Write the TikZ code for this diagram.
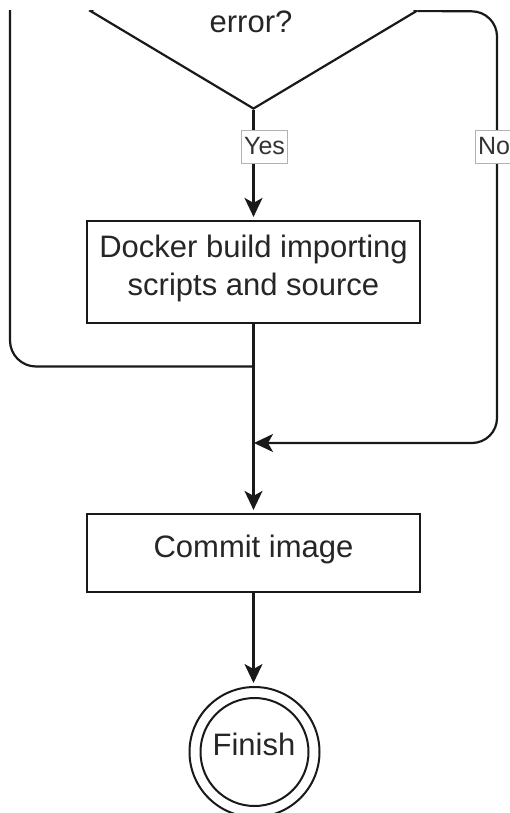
\documentclass[tikz,border=0pt]{standalone}
\usepackage{fontspec}
\setmainfont{Liberation Sans}
\usetikzlibrary{shapes.geometric,arrows.meta}
\begin{document}
\begin{tikzpicture}[x=1pt,y=-1pt,
  flow/.style={line width=2.2pt, draw=black!90},
  arr/.style={flow, -{Stealth[length=19pt 0 0,width=18pt 0 0,inset=5pt]}, shorten >=3pt},
  procbox/.style={draw=black!90, line width=2.2pt, minimum width=333pt, inner sep=0pt, fill=white},
  maintext/.style={font=\fontsize{31}{38}\selectfont, text=black!85, inner sep=0pt},
  tag/.style={draw=black!30, line width=0.8pt, fill=white, font=\fontsize{25}{30}\selectfont,
              text=black!80, inner xsep=2.5pt, inner ysep=0pt, minimum height=33pt},
]
% page: white background, fixed size
\fill[white] (0,0) rectangle (510,813);
\useasboundingbox (0,0) rectangle (510,813);

\begin{scope}
\clip (0,11) rectangle (510,813);

% decision
\node[diamond, draw=black!90, line width=2.2pt, minimum width=327pt, minimum height=196pt,
      inner sep=0pt] (dec) at (253.5,11) {};
\node[maintext, anchor=base] (q) at (251,33) {error?};

% process steps
\node[procbox, minimum height=102pt] (build) at (253.5,272) {};
\node[maintext, align=center, anchor=north] (buildtxt) at (253.5,234.5)
  {Docker build importing\\scripts and source};
\node[procbox, minimum height=78pt] (commit) at (253.5,553) {};
\node[maintext, anchor=base] (committxt) at (253.5,557) {Commit image};

% terminal
\node[circle, draw=black!90, line width=2pt, minimum size=130pt, inner sep=0pt] (fin) at (254.5,752) {};
\node[circle, draw=black!90, line width=2pt, minimum size=108pt, inner sep=0pt] (fininner) at (254.5,752) {};
\node[maintext, anchor=base] (fintxt) at (254,755) {Finish};

% junction points
\coordinate (ltop) at (10,0);
\coordinate (join) at (253.5,366.5);
\coordinate (merge) at (253.5,443);
\coordinate (rtop) at (497,11.5);

% connectors
\draw[arr] (dec.south) -- (build.north);
\draw[arr] (build.south) -- (commit.north);
\draw[arr] (commit.south) -- (commit.south |- fin.north);
\draw[flow, rounded corners=26pt] (ltop) |- (join);
\draw[arr, shorten >=0.5pt, rounded corners=25pt] (dec.east) -- (rtop) |- (merge);

% branch labels
\node[tag] (yes) at (264.5,146.5) {Yes};
\node[tag] (no) at (494,146.5) {No};
\end{scope}
\end{tikzpicture}
\end{document}
